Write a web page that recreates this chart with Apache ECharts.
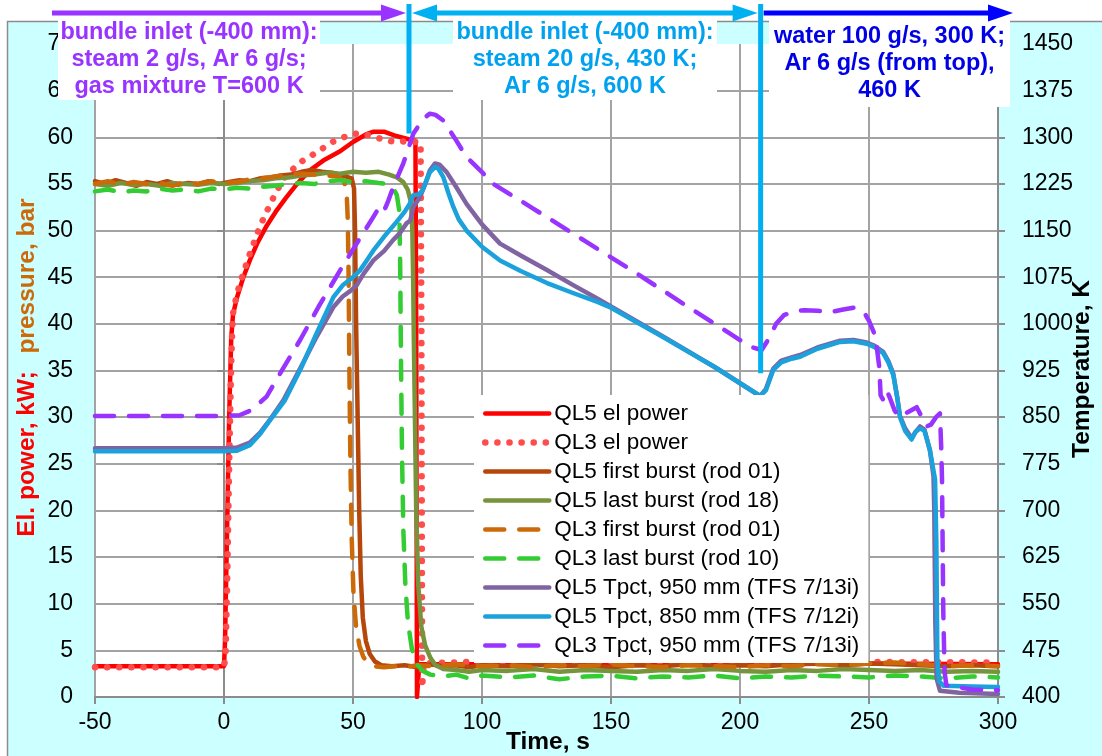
<!DOCTYPE html>
<html>
<head>
<meta charset="utf-8">
<title>QL5 / QL3 power, pressure and temperature</title>
<script src="https://cdn.jsdelivr.net/npm/echarts@6.0.0/dist/echarts.min.js"></script>
<style>
  html, body { margin: 0; padding: 0; background: #fff; }
  #chart { width: 1102px; height: 756px; }
</style>
</head>
<body>
<div id="chart"></div>
<script>
const FONT = '"Liberation Sans", Arial, sans-serif'

// axes
const timeTicks = [-50, 0, 50, 100, 150, 200, 250, 300]
const leftTicks = [0, 70, 5]          // min, max, step (kW / bar)
const tempTicks = [400, 1450, 75]     // min, max, step (K)

// el. power, kW  [time s, value]
const ql5Power = [[-50,3.3],[-25,3.3],[0,3.3],[0.4,6],[1.2,18],[2,30],[2.8,38.5],[3.5,41],[5,42.8],[7.5,45],[10,46.8],[13,48.7],[16.5,50.5],[20,52],[24,53.5],[28,54.9],[33,56.4],[39,57.6],[45,58.5],[50,59.5],[55,60.3],[58,60.6],[62,60.6],[66,60.2],[70,59.9],[74.2,59.6],[74.5,40],[74.8,0],[75.4,0],[75.7,3.5],[100,3.5],[150,3.6],[200,3.5],[250,3.6],[300,3.5]]
const ql3Power = [[-50,3.2],[-25,3.2],[0,3.2],[0.6,4.5],[1.2,12],[2,25],[2.8,36],[3.4,41],[5,43.2],[7,45],[10,47.5],[14,50.5],[17,52.3],[20.5,54.3],[24,55.9],[30,57.4],[36,58.4],[42,59.5],[50,60.4],[55,60.3],[60,59.9],[66,59.5],[72,59.6],[76.2,59.4],[76.5,40],[76.8,1],[77.1,1],[77.4,3.6],[100,3.8],[200,3.8],[300,3.7]]

// pressure, bar
const ql5FirstBurst = [[-50,55.3],[-46,55.0],[-42,55.4],[-38,55.1],[-34,54.8],[-30,55.2],[-26,55.0],[-22,55.3],[-18,54.9],[-14,55.1],[-10,55.0],[-6,55.3],[-2,55.0],[2,55.2],[6,55.4],[10,55.3],[14,55.6],[18,55.7],[22,55.9],[26,56.0],[30,56.3],[34,56.5],[38,56.3],[42,56.2],[46,55.9],[49.5,55.6],[50.4,54.5],[50.8,50],[51.2,40],[51.8,30],[52.4,20],[53,13],[53.8,8.5],[55,6],[56.5,4.6],[58.5,3.8],[61,3.4],[65,3.3],[70,3.4],[75,3.2],[80,3.5],[85,3.3],[90,3.4],[95,3.2],[100,3.4],[110,3.3],[120,3.5],[130,3.3],[140,3.4],[150,3.2],[160,3.4],[170,3.3],[180,3.5],[190,3.3],[200,3.4],[210,3.3],[220,3.5],[230,3.6],[240,3.4],[250,3.6],[260,3.5],[270,3.4],[280,3.3],[290,3.4],[300,3.3]]
const ql5LastBurst = [[-50,55.0],[-45,54.8],[-40,55.1],[-35,54.9],[-30,55.0],[-25,54.8],[-20,55.1],[-15,55.0],[-10,54.9],[-5,55.1],[0,55.0],[5,55.1],[10,55.3],[15,55.4],[20,55.6],[25,55.7],[30,55.9],[35,56.0],[40,56.2],[45,56.1],[50,56.3],[55,56.2],[60,56.3],[64,56.0],[67,55.7],[69.5,55.2],[71.2,54.4],[72.5,53],[73,50],[73.3,45],[73.6,38],[74,30],[74.5,20],[75.3,12],[76.5,7.5],[78,5.5],[80,4.2],[82,3.4],[85,3.0],[90,2.9],[95,2.7],[100,2.9],[110,2.8],[120,3.0],[130,2.7],[140,2.9],[150,2.8],[160,2.7],[170,2.9],[180,2.8],[190,3.0],[200,2.8],[210,2.7],[220,2.9],[230,2.8],[240,3.0],[250,2.9],[260,2.8],[270,2.9],[280,2.7],[290,2.8],[300,2.7]]
const ql3FirstBurst = [[-50,55.0],[-45,55.3],[-40,54.9],[-35,55.2],[-30,55.0],[-25,55.1],[-20,54.8],[-15,55.2],[-10,55.0],[-5,55.3],[0,55.1],[5,55.2],[10,55.5],[15,55.6],[20,55.8],[25,56.0],[30,56.1],[35,56.0],[40,55.9],[44,55.8],[46.5,55.3],[47.5,54.3],[48,51],[48.3,45],[48.6,35],[49,25],[49.5,17],[50.2,11],[51.2,7.5],[52.5,5.5],[54,4.3],[56,3.6],[58,3.3],[62,3.2],[66,3.3],[70,3.2],[75,3.4],[80,3.3],[90,3.5],[100,3.3],[110,3.4],[120,3.2],[130,3.4],[140,3.3],[150,3.5],[160,3.3],[170,3.2],[180,3.4],[190,3.3],[200,3.2],[210,3.4],[220,3.3],[230,3.5],[240,3.4],[250,3.6],[260,3.7],[270,3.5],[280,3.3],[290,3.4],[300,3.3]]
const ql3LastBurst = [[-50,54.2],[-45,54.4],[-40,54.1],[-35,54.3],[-30,54.2],[-25,54.5],[-20,54.3],[-15,54.4],[-10,54.2],[-5,54.5],[0,54.4],[5,54.6],[10,54.5],[15,54.7],[20,54.8],[25,55.0],[30,55.1],[35,55.0],[40,55.3],[45,55.4],[50,55.2],[55,55.3],[60,55.1],[63,55.0],[65.5,54.6],[67,53.8],[68,52],[68.3,46],[68.6,36],[69,26],[69.5,18],[70.3,12],[71.3,8],[72.8,5.2],[74.5,3.6],[77,2.8],[80,2.4],[85,2.2],[90,2.4],[95,2.0],[100,2.3],[110,2.1],[120,2.3],[130,1.9],[140,2.2],[150,2.3],[160,2.0],[170,2.2],[180,2.1],[190,2.3],[200,2.0],[210,2.2],[220,2.1],[230,2.3],[240,2.2],[250,2.1],[260,2.3],[270,2.2],[280,2.0],[290,2.2],[300,2.1]]

// temperature, K
const ql5T950 = [[-50,800],[-25,800],[0,800],[5,801],[10,809],[14,825],[18,847],[23,877],[30,932],[36,980],[42.4,1027],[46,1044],[49,1053],[51.4,1062],[54,1080],[57.9,1102],[62,1117],[65.6,1135],[68,1145],[70.8,1162],[72.2,1166],[73.4,1188],[76,1204],[78,1225],[79.8,1247],[81.8,1258],[83.5,1256],[86.3,1244],[90,1220],[94,1193],[100,1160],[107,1129],[115,1110],[125,1087],[135,1063],[145,1040],[150,1028],[170,980],[190,931],[207.8,884],[210,895],[212.9,928],[216,941],[220,946],[223.3,950],[230,962],[238.8,973],[244,974],[249.1,970],[252,965],[255.5,955],[257.5,940],[259.4,920],[261,880],[262,852],[264,832],[266.5,816],[268,826],[269.8,835],[271.5,830],[273.6,797],[275,755],[275.3,700],[275.7,520],[276.2,430],[277.5,410],[285,407],[300,405]]
const ql5T850 = [[-50,795],[-25,795],[0,795],[5,796],[10,805],[14,823],[18,846],[23.6,877],[30,930],[36,986],[42.4,1043],[46,1062],[48.5,1070],[50,1075],[52.7,1086],[55,1100],[57.9,1118],[62,1140],[66.9,1164],[70,1180],[72,1193],[73.4,1207],[75.5,1208],[77,1215],[79.8,1244],[81.8,1252],[83,1250],[85,1236],[87,1210],[88.9,1188],[91,1168],[94,1150],[100,1124],[107,1102],[115,1085],[125,1066],[135,1050],[145,1035],[150,1026],[170,979],[190,931],[207.8,884],[210,893],[212.9,926],[216,938],[220,944],[223.3,947],[230,960],[238.8,971],[244,972],[249.1,968],[252,963],[255.5,953],[257.5,938],[259.4,918],[261,880],[262,850],[264,828],[266.5,814],[268,826],[269.8,832],[271.5,828],[273.6,797],[275.6,750],[276.1,650],[276.5,460],[277.2,425],[279,418],[290,417],[300,416]]
const ql3T950 = [[-50,852],[-25,852],[0,852],[6,853],[10,860],[13,870],[16.5,883],[22,922],[29.5,974],[37,1030],[45,1086],[51.4,1129],[57.9,1172],[60.5,1190],[61.5,1193],[62.5,1186],[63.5,1196],[65.6,1220],[69.5,1258],[73.4,1306],[77.3,1330],[79.8,1338],[82,1336],[85,1327],[90,1295],[94,1268],[100,1244],[104.4,1225],[120,1185],[140,1133],[160,1081],[180,1027],[200,974],[205,962],[208.4,958],[211,975],[214,1000],[217,1014],[221,1020],[225,1022],[230,1021],[235,1019],[240,1023],[244,1026],[248,1019],[250,1005],[252,985],[253,963],[254,930],[254.5,885],[255.5,878],[256.8,893],[258,882],[260,860],[262,850],[265,858],[268.5,866],[270.5,850],[272.3,835],[274,838],[276,850],[277.5,856],[278,800],[278.3,750],[278.8,535],[279.3,440],[280,419],[290,412],[300,411]]

// phase boundaries (s) and where the boundary marker stops (kW axis)
const phaseTimes = [71.7, 208]
const phaseStops = [60.4, 34.7]
const phaseTexts = [
  'bundle inlet (-400 mm):\nsteam 2 g/s, Ar 6 g/s;\ngas mixture T=600 K',
  'bundle inlet (-400 mm):\nsteam 20 g/s, 430 K;\nAr 6 g/s, 600 K',
  'water 100 g/s, 300 K;\nAr 6 g/s (from top),\n460 K'
]

const kPerUnit = tempTicks[2] / leftTicks[2]
const toLeft = k => (k - tempTicks[0]) / kPerUnit

const DOTS = [0.1, 12]
const DASH = [19, 15]
const seriesDefs = [
  { name: 'QL5 el power', data: ql5Power, color: '#ff0000', dash: 'solid', width: 4.5 },
  { name: 'QL3 el power', data: ql3Power, color: '#ff4d4d', dash: DOTS, width: 6.5 },
  { name: 'QL5 first burst (rod 01)', data: ql5FirstBurst, color: '#b5470b', dash: 'solid', width: 4.5 },
  { name: 'QL5 last burst (rod 18)', data: ql5LastBurst, color: '#77933c', dash: 'solid', width: 4.5 },
  { name: 'QL3 first burst (rod 01)', data: ql3FirstBurst, color: '#cc6a0a', dash: DASH, width: 4.5 },
  { name: 'QL3 last burst (rod 10)', data: ql3LastBurst, color: '#33cc33', dash: DASH, width: 4.5 },
  { name: 'QL5 Tpct, 950 mm (TFS 7/13i)', data: ql5T950, color: '#8064a2', dash: 'solid', width: 4.5, temp: true },
  { name: 'QL5 Tpct, 850 mm (TFS 7/12i)', data: ql5T850, color: '#1ba1dc', dash: 'solid', width: 4.5, temp: true },
  { name: 'QL3 Tpct, 950 mm (TFS 7/13i)', data: ql3T950, color: '#9933ff', dash: DASH, width: 4.5, temp: true }
]

const chart = echarts.init(document.getElementById('chart'))

const axisGray = '#8c8c8c'
const gridGray = '#a3a3a3'

const option = {
  animation: false,
  backgroundColor: '#ccffff',
  textStyle: { fontFamily: FONT },
  grid: { left: 95, right: 104, top: 44, bottom: 59, show: true, backgroundColor: '#fff', borderWidth: 0 },
  legend: {
    orient: 'vertical',
    left: 474,
    top: 395,
    padding: [7, 9, 6, 8],
    backgroundColor: '#fff',
    itemWidth: 64,
    itemHeight: 12,
    itemGap: 6,
    textStyle: { fontSize: 22.5, lineHeight: 22, color: '#000', fontFamily: FONT },
    lineStyle: { width: 'inherit' },
    itemStyle: { opacity: 0 },
    data: seriesDefs.map(s => s.name)
  },
  xAxis: {
    type: 'value',
    min: timeTicks[0],
    max: timeTicks[timeTicks.length - 1],
    interval: timeTicks[1] - timeTicks[0],
    axisLine: { show: true, onZero: false, lineStyle: { color: axisGray, width: 2 } },
    axisTick: { show: true, length: 7, lineStyle: { color: axisGray, width: 2 } },
    axisLabel: { fontSize: 23, color: '#000', margin: 14 },
    splitLine: { show: true, lineStyle: { color: gridGray, width: 2 } }
  },
  yAxis: [
    {
      type: 'value',
      position: 'left',
      min: leftTicks[0],
      max: leftTicks[1],
      interval: leftTicks[2],
      axisLine: { show: true, lineStyle: { color: axisGray, width: 2 } },
      axisTick: { show: true, length: 7, lineStyle: { color: axisGray, width: 2 } },
      axisLabel: { fontSize: 23, color: '#000', margin: 22 },
      splitLine: { show: true, showMaxLine: false, lineStyle: { color: gridGray, width: 2 } }
    },
    {
      type: 'value',
      position: 'right',
      min: leftTicks[0],
      max: leftTicks[1],
      interval: leftTicks[2],
      axisLine: { show: true, lineStyle: { color: axisGray, width: 2 } },
      axisTick: { show: true, length: 7, lineStyle: { color: axisGray, width: 2 } },
      axisLabel: { fontSize: 23, color: '#000', margin: 24, formatter: v => String(Math.round(tempTicks[0] + v * kPerUnit)) },
      splitLine: { show: false }
    }
  ],
  series: seriesDefs.map(s => ({
    name: s.name,
    type: 'line',
    yAxisIndex: s.temp ? 1 : 0,
    data: s.temp ? s.data.map(p => [p[0], toLeft(p[1])]) : s.data,
    symbol: 'none',
    showSymbol: false,
    smooth: false,
    color: s.color,
    lineStyle: { color: s.color, width: s.width, type: s.dash, cap: 'round', join: 'round' }
  }))
}
chart.setOption(option)

// annotations: positions of the phase boundaries come from the axes
const xPx = t => chart.convertToPixel({ xAxisIndex: 0 }, t)
const yPx = v => chart.convertToPixel({ yAxisIndex: 0 }, v)
const arrowY = 13
const purple = '#9933ff'
const cyan = '#00b0f0'
const blue = '#0000ff'

function head(tipX, dir, color) {
  return {
    type: 'polygon', z: 110, silent: true,
    shape: { points: [[tipX, arrowY], [tipX - dir * 25, arrowY - 8.5], [tipX - dir * 25, arrowY + 8.5]] },
    style: { fill: color }
  }
}
function shaft(x1, x2, color) {
  return { type: 'line', z: 105, silent: true, shape: { x1: x1, y1: arrowY, x2: x2, y2: arrowY }, style: { stroke: color, lineWidth: 5 } }
}
function box(x, y, w, h) {
  return { type: 'rect', z: 100, silent: true, shape: { x: x, y: y, width: w, height: h }, style: { fill: '#fff' } }
}
function note(x, y, text, color) {
  return {
    type: 'text', z: 101, silent: true, x: x, y: y,
    style: { text: text, fill: color, fontSize: 23.5, fontWeight: 'bold', fontFamily: FONT, align: 'center', verticalAlign: 'middle', lineHeight: 27 }
  }
}
function axisName(x, y, text, color, rot) {
  return {
    type: 'text', z: 101, silent: true, x: x, y: y, rotation: rot,
    style: { text: text, fill: color, fontSize: 24.5, fontWeight: 'bold', fontFamily: FONT, align: 'center', verticalAlign: 'middle' }
  }
}

const p0 = xPx(phaseTimes[0])
const p1 = xPx(phaseTimes[1])
const graphic = [
  { type: 'rect', z: 90, silent: true, shape: { x: 0, y: 0, width: 1102, height: 21 }, style: { fill: '#fff' } },
  { type: 'rect', z: 90, silent: true, shape: { x: 0, y: 0, width: 7, height: 756 }, style: { fill: '#fff' } },
  { type: 'polyline', z: 91, silent: true, shape: { points: [[7.5, 756], [7.5, 21.5], [1102, 21.5]] }, style: { stroke: axisGray, lineWidth: 1.5, fill: null } },
  { type: 'line', z: 104, silent: true, shape: { x1: p0, y1: 4, x2: p0, y2: yPx(phaseStops[0]) }, style: { stroke: cyan, lineWidth: 5 } },
  { type: 'line', z: 104, silent: true, shape: { x1: p1, y1: 4, x2: p1, y2: yPx(phaseStops[1]) }, style: { stroke: cyan, lineWidth: 5 } },
  shaft(52, p0 - 20, purple), head(p0 - 3, 1, purple),
  shaft(p0 + 20, p1 - 20, cyan), head(p0 + 3, -1, cyan), head(p1 - 3, 1, cyan),
  shaft(p1 + 3, 995, blue), head(1013, 1, blue),
  box(58, 20, 262, 80), note(189, 60, phaseTexts[0], purple),
  box(453, 20, 264, 80), note(585, 60, phaseTexts[1], '#00a2ef'),
  box(769, 20, 241, 87), note(889.5, 64, phaseTexts[2], '#0000e6'),
  axisName(27, 454, 'El. power, kW;', '#ff0000', Math.PI / 2),
  axisName(27, 276, 'pressure, bar', '#cc6a0a', Math.PI / 2),
  axisName(1082, 369, 'Temperature, K', '#000', Math.PI / 2),
  axisName(548, 742, 'Time, s', '#000', 0)
]
chart.setOption({ graphic: graphic })
</script>
</body>
</html>
